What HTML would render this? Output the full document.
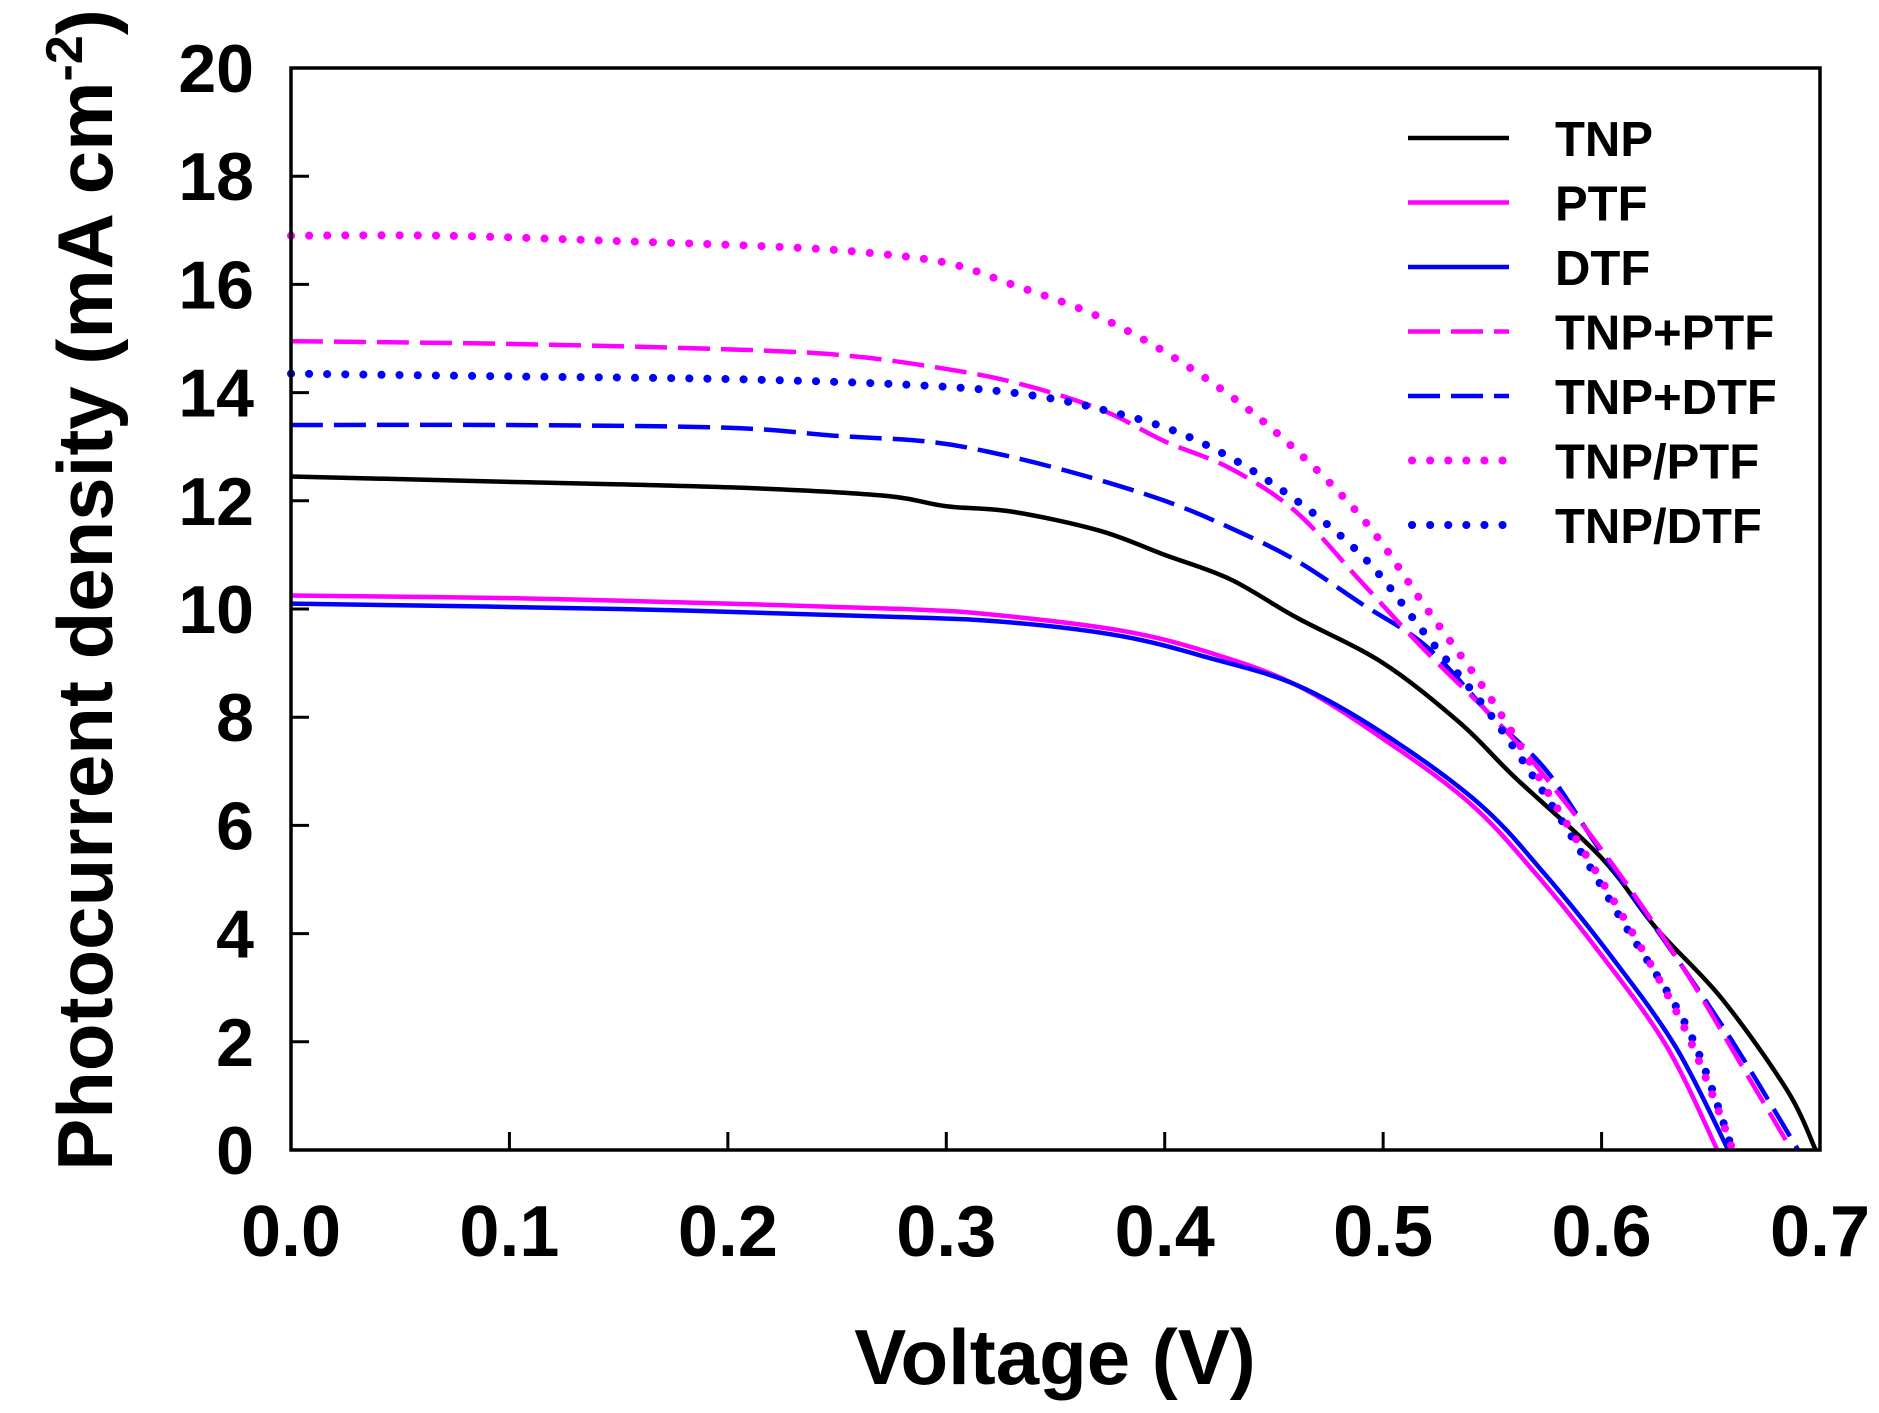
<!DOCTYPE html>
<html><head><meta charset="utf-8">
<style>
html,body{margin:0;padding:0;background:#fff;}
svg{display:block;}
text{font-family:"Liberation Sans",Arial,sans-serif;font-weight:bold;fill:#000;}
</style></head>
<body>
<svg id="s" width="1879" height="1413" viewBox="0 0 1879 1413" xmlns="http://www.w3.org/2000/svg">
<g id="curves" fill="none" stroke-linejoin="round"></g>
<rect x="291" y="68" width="1529" height="1082" fill="none" stroke="#000" stroke-width="3.5"/>
<g id="ticks" stroke="#000" stroke-width="3"></g>
<g id="labels"></g>
<text x="1055" y="1384" font-size="78" text-anchor="middle">Voltage (V)</text>
<text transform="translate(112,590) rotate(-90)" font-size="78" text-anchor="middle">Photocurrent density (mA cm<tspan dy="-30" font-size="52">-2</tspan><tspan dy="30">)</tspan></text>
<g id="legend"></g>
</svg>
<script>
var X0=291,XS=2184.3,Y0=1150,YS=54.1;
function px(v){return X0+v*XS;} function py(j){return Y0-j*YS;}
var data={
TNP:[[0,12.45],[0.03,12.42],[0.1,12.35],[0.2,12.25],[0.27,12.1],[0.3,11.9],[0.33,11.8],[0.37,11.45],[0.4,11.0],[0.43,10.55],[0.46,9.85],[0.5,9.0],[0.535,7.9],[0.56,6.9],[0.6,5.4],[0.625,4.1],[0.655,2.8],[0.685,1.1],[0.698,0]],
PTF:[[0,10.25],[0.1,10.2],[0.2,10.1],[0.28,10.0],[0.32,9.9],[0.38,9.6],[0.42,9.2],[0.46,8.6],[0.5,7.6],[0.54,6.4],[0.57,5.1],[0.6,3.6],[0.63,1.9],[0.653,0]],
DTF:[[0,10.1],[0.15,10.0],[0.28,9.85],[0.33,9.75],[0.38,9.5],[0.42,9.1],[0.46,8.6],[0.5,7.7],[0.544,6.4],[0.574,5.1],[0.604,3.6],[0.634,1.9],[0.658,0]],
TNPPTF:[[0,14.95],[0.1,14.9],[0.2,14.8],[0.25,14.7],[0.29,14.5],[0.33,14.2],[0.37,13.7],[0.4,13.1],[0.43,12.6],[0.46,11.8],[0.49,10.5],[0.52,9.2],[0.555,7.8],[0.58,6.6],[0.61,5.0],[0.64,3.2],[0.665,1.5],[0.687,0]],
TNPDTF:[[0,13.4],[0.1,13.4],[0.2,13.35],[0.25,13.2],[0.29,13.1],[0.32,12.9],[0.36,12.5],[0.4,12.0],[0.43,11.5],[0.46,10.9],[0.49,10.1],[0.52,9.3],[0.55,8.0],[0.575,7.0],[0.6,5.5],[0.63,3.8],[0.66,2.0],[0.69,0]],
TNPsPTF:[[0,16.9],[0.07,16.9],[0.15,16.8],[0.22,16.7],[0.26,16.6],[0.3,16.4],[0.33,16.0],[0.37,15.4],[0.41,14.5],[0.45,13.3],[0.49,11.7],[0.52,10.0],[0.55,8.3],[0.58,6.3],[0.61,4.3],[0.635,2.5],[0.65,1.1],[0.66,0]],
TNPsDTF:[[0,14.35],[0.1,14.3],[0.2,14.25],[0.28,14.15],[0.33,14.0],[0.37,13.7],[0.41,13.2],[0.45,12.3],[0.49,11.0],[0.52,9.5],[0.55,8.0],[0.58,6.2],[0.61,4.2],[0.64,2.2],[0.66,0]]
};
var M="#ff00ff",B="#0000ff",K="#000";
var st={TNP:[K,""],PTF:[M,""],DTF:[B,""],TNPPTF:[M,"32 11"],TNPDTF:[B,"32 11"],TNPsPTF:[M,"0.1 18"],TNPsDTF:[B,"0.1 18"]};
function path(pts){var p=pts.map(function(a){return[px(a[0]),py(a[1])];});var d="M"+p[0][0]+","+p[0][1];
for(var i=0;i<p.length-1;i++){var a=p[i-1]||p[i],b=p[i],c=p[i+1],e=p[i+2]||c;
d+=" C"+(b[0]+(c[0]-a[0])/6)+","+(b[1]+(c[1]-a[1])/6)+" "+(c[0]-(e[0]-b[0])/6)+","+(c[1]-(e[1]-b[1])/6)+" "+c[0]+","+c[1];}return d;}
var NS="http://www.w3.org/2000/svg",g=document.getElementById("curves");
function el(par,tag,at){var e=document.createElementNS(NS,tag);for(var k in at)e.setAttribute(k,at[k]);par.appendChild(e);return e;}
var order=["PTF","DTF","TNP","TNPDTF","TNPPTF","TNPsDTF","TNPsPTF"];
order.forEach(function(k){var s=st[k],dot=s[1].indexOf("0.1")==0;
el(g,"path",{d:path(data[k]),stroke:s[0],"stroke-width":dot?8:4.5,"stroke-dasharray":s[1],"stroke-linecap":dot?"round":"butt"});});
var t=document.getElementById("ticks"),l=document.getElementById("labels");
for(var i=1;i<7;i++){var x=px(i/10);el(t,"line",{x1:x,y1:1150,x2:x,y2:1132});}
for(var i=1;i<10;i++){var y=py(2*i);el(t,"line",{x1:291,y1:y,x2:309,y2:y});}
for(var i=0;i<=7;i++){var e=el(l,"text",{x:px(i/10),y:1256,"font-size":72,"text-anchor":"middle"});e.textContent=(i/10).toFixed(1);}
for(var i=0;i<=10;i++){var e=el(l,"text",{x:254,y:py(2*i)+24,"font-size":68,"text-anchor":"end"});e.textContent=String(2*i);}
var lg=document.getElementById("legend"),names=[["TNP","TNP"],["PTF","PTF"],["DTF","DTF"],["TNPPTF","TNP+PTF"],["TNPDTF","TNP+DTF"],["TNPsPTF","TNP/PTF"],["TNPsDTF","TNP/DTF"]];
names.forEach(function(n,i){var y=138+i*64.5,s=st[n[0]],dot=s[1].indexOf("0.1")==0;
el(lg,"line",{x1:dot?1412:1408,y1:y,x2:1509,y2:y,stroke:s[0],"stroke-width":dot?8:4.5,"stroke-dasharray":s[1],"stroke-linecap":dot?"round":"butt"});
var e=el(lg,"text",{x:1555,y:y+18,"font-size":49});e.textContent=n[1];});
</script>
</body></html>
